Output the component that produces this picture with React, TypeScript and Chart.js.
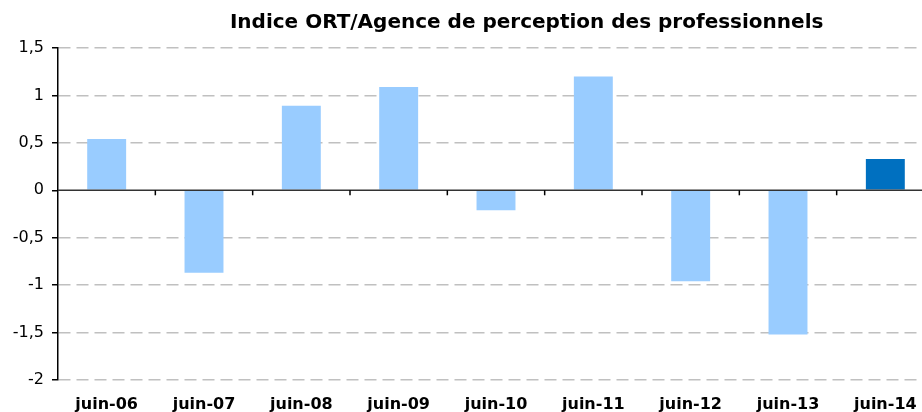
import React, { useEffect, useRef } from "react";
import { Chart, registerables } from "chart.js";

Chart.register(...registerables);

const TITLE = "Indice ORT/Agence de perception des professionnels";
const categories = ["juin-06", "juin-07", "juin-08", "juin-09", "juin-10", "juin-11", "juin-12", "juin-13", "juin-14"];
const values = [0.54, -0.87, 0.89, 1.09, -0.21, 1.2, -0.96, -1.52, 0.33];
const barColors = ["#99CCFF", "#99CCFF", "#99CCFF", "#99CCFF", "#99CCFF", "#99CCFF", "#99CCFF", "#99CCFF", "#0070C0"];
const yMin = -2;
const yMax = 1.5;
const yStep = 0.5;

const FONT = "DejaVu Sans";

const overlayPlugin = {
  id: "overlay",
  afterDatasetsDraw(chart: any) {
    const { ctx, chartArea, scales } = chart;
    const x = scales.x;
    const y = scales.y;
    const y0 = y.getPixelForValue(0);
    ctx.save();
    ctx.strokeStyle = "#333333";
    ctx.lineWidth = 1.5;
    ctx.beginPath();
    ctx.moveTo(chartArea.left, y0);
    ctx.lineTo(chartArea.right, y0);
    ctx.stroke();
    ctx.strokeStyle = "#000";
    for (let i = 1; i < categories.length; i++) {
      const bx = (x.getPixelForValue(i - 1) + x.getPixelForValue(i)) / 2;
      ctx.beginPath();
      ctx.moveTo(bx, y0);
      ctx.lineTo(bx, y0 + 5);
      ctx.stroke();
    }
    ctx.restore();
  },
  afterDraw(chart: any) {
    const { ctx, chartArea } = chart;
    ctx.save();
    ctx.fillStyle = "#000";
    ctx.font = `bold 20px ${FONT}`;
    ctx.textAlign = "center";
    ctx.textBaseline = "middle";
    const cx = chartArea.left + (chartArea.right - chartArea.left) * 0.535;
    ctx.fillText(TITLE, cx, 23);
    ctx.restore();
  },
};

export default function App() {
  const ref = useRef<HTMLCanvasElement | null>(null);
  useEffect(() => {
    if (!ref.current) return;
    const chart = new Chart(ref.current, {
      type: "bar",
      data: {
        labels: categories,
        datasets: [
          {
            data: values,
            backgroundColor: barColors,
            borderWidth: 0,
            barPercentage: 0.4,
            categoryPercentage: 1,
          },
        ],
      },
      options: {
        animation: false,
        responsive: false,
        layout: { padding: { top: 48, right: 16, left: 0, bottom: 0 } },
        plugins: { legend: { display: false }, tooltip: { enabled: false }, title: { display: false } },
        scales: {
          x: {
            grid: { display: false, drawTicks: false },
            border: { display: false },
            ticks: {
              color: "#000",
              font: { family: FONT, size: 16, weight: "bold" },
              padding: 15,
              maxRotation: 0,
              autoSkip: false,
            },
            afterFit: (s: any) => {
              s.height = 32;
            },
          },
          y: {
            min: yMin,
            max: yMax,
            border: { display: true, color: "#000", width: 1.5, dash: [12, 6] },
            grid: {
              color: (c: any) => (c.tick && c.tick.value === 0 ? "rgba(0,0,0,0)" : "#c0c0c0"),
              lineWidth: 1.5,
              tickColor: "#000",
              tickLength: 6,
              drawTicks: true,
            },
            ticks: {
              stepSize: yStep,
              color: "#000",
              padding: 8,
              font: { family: FONT, size: 16 },
              callback: (v: any) => String(v).replace(".", ","),
            },
            afterFit: (s: any) => {
              s.width = 58;
            },
          },
        },
      },
      plugins: [overlayPlugin],
    });
    return () => chart.destroy();
  }, []);
  return (
    <div style={{ position: "fixed", left: 0, top: 0, width: 922, height: 412, overflow: "hidden", background: "#fff" }}>
      <canvas ref={ref} width={950} height={412} style={{ display: "block" }} />
    </div>
  );
}
